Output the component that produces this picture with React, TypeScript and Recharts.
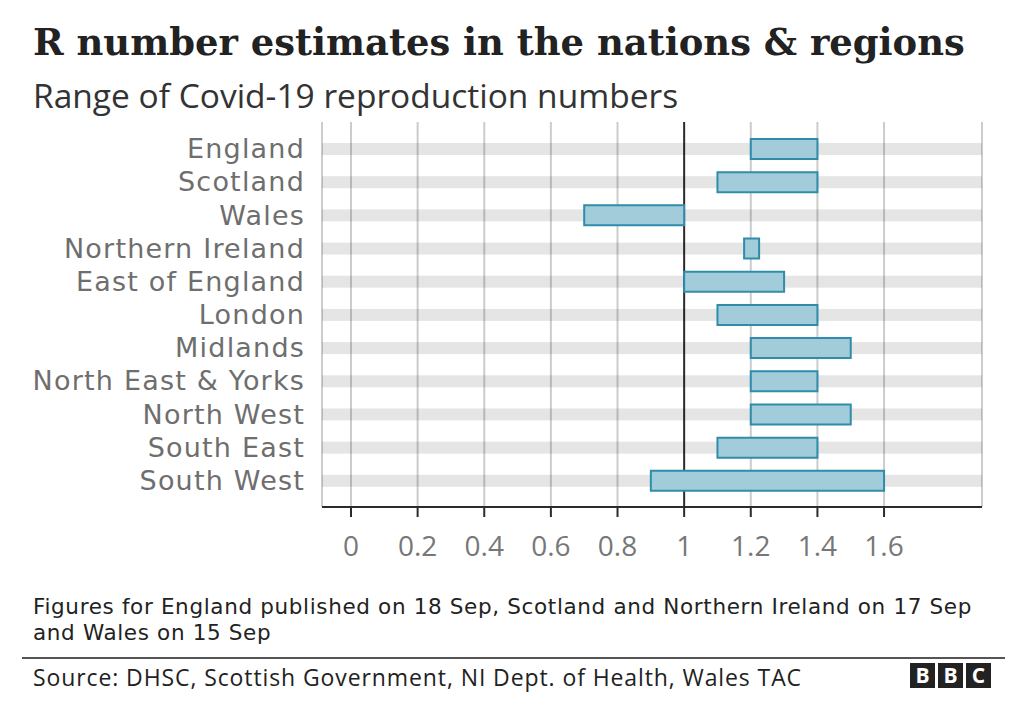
import { BarChart, Bar, XAxis, YAxis, CartesianGrid } from 'recharts';

const regions = [
  'England',
  'Scotland',
  'Wales',
  'Northern Ireland',
  'East of England',
  'London',
  'Midlands',
  'North East & Yorks',
  'North West',
  'South East',
  'South West',
];

const lowValues = [1.2, 1.1, 0.7, 1.18, 1.0, 1.1, 1.2, 1.2, 1.2, 1.1, 0.9];
const highValues = [1.4, 1.4, 1.0, 1.225, 1.3, 1.4, 1.5, 1.4, 1.5, 1.4, 1.6];

const xTicks = [0, 0.2, 0.4, 0.6, 0.8, 1, 1.2, 1.4, 1.6];

const noteLines = [
  'Figures for England published on 18 Sep, Scotland and Northern Ireland on 17 Sep',
  'and Wales on 15 Sep',
];

const data = regions.map((name, i) => ({
  name,
  range: [lowValues[i], highValues[i]],
}));

const sans = '"Open Sans", "Noto Sans", sans-serif';
const dejavu = '"DejaVu Sans", sans-serif';

// thin grey stripe behind each row, drawn from the bar's own band
function RowBand(props: any) {
  const { x, y, width, height } = props;
  return <rect x={x} y={y + height / 2 - 6} width={width} height={12} fill="#000" fillOpacity={0.1} />;
}

function GridLine(props: any) {
  const { x1, y1, x2, y2, index } = props;
  const isOne = xTicks[index] === 1;
  return (
    <line
      x1={x1}
      y1={y1}
      x2={x2}
      y2={y2}
      stroke={isOne ? '#2b2b2b' : '#cccccc'}
      strokeWidth={2}
    />
  );
}

function BbcLogo() {
  return (
    <div style={{ display: 'flex', gap: 3 }}>
      {['B', 'B', 'C'].map((c, i) => (
        <div
          key={i}
          style={{
            width: 25,
            height: 25,
            background: '#222',
            color: '#fff',
            fontFamily: sans,
            fontWeight: 700,
            fontSize: 21,
            lineHeight: '25px',
            textAlign: 'center',
          }}
        >
          {c}
        </div>
      ))}
    </div>
  );
}

export default function App() {
  return (
    <div style={{ position: 'absolute', left: 0, top: 0, width: 1020, height: 710, background: '#fff' }}>
      <div
        style={{
          position: 'absolute',
          left: 33,
          top: 20,
          fontFamily: '"DejaVu Serif", serif',
          fontWeight: 700,
          fontSize: 36.9,
          color: '#222',
          whiteSpace: 'nowrap',
        }}
      >
        R number estimates in the nations &amp; regions
      </div>
      <div
        style={{
          position: 'absolute',
          left: 33,
          top: 72,
          fontFamily: sans,
          fontSize: 33.5,
          color: '#333',
          whiteSpace: 'nowrap',
        }}
      >
        Range of Covid-19 reproduction numbers
      </div>

      <div style={{ position: 'absolute', left: 0, top: 0 }}>
        <BarChart
          width={1020}
          height={580}
          data={data}
          layout="vertical"
          margin={{ top: 122, right: 38, bottom: 13, left: 22 }}
          barSize={20}
        >
          <CartesianGrid horizontal={false} vertical={GridLine} />
          <XAxis
            type="number"
            domain={[-0.087, 1.894]}
            allowDataOverflow
            ticks={xTicks}
            height={60}
            tickSize={10}
            tickMargin={19}
            axisLine={{ stroke: '#2b2b2b', strokeWidth: 2 }}
            tickLine={{ stroke: '#2b2b2b', strokeWidth: 2 }}
            tick={{ fill: '#777', fontSize: 28, fontFamily: sans }}
          />
          <YAxis
            type="category"
            dataKey="name"
            width={300}
            axisLine={false}
            tickLine={false}
            tickSize={0}
            tickMargin={17}
            padding={{ top: 10, bottom: 10 }}
            interval={0}
            tick={{ fill: '#6e6e6e', fontSize: 27, fontFamily: dejavu, letterSpacing: 1.2 }}
          />
          <Bar
            dataKey="range"
            fill="#a3ccda"
            stroke="#2f8cab"
            strokeWidth={2}
            background={RowBand}
            isAnimationActive={false}
          />
        </BarChart>
      </div>

      {noteLines.map((line, i) => (
        <div
          key={i}
          style={{
            position: 'absolute',
            left: 33,
            top: 595 + i * 26,
            fontFamily: dejavu,
            fontSize: 21.5,
            lineHeight: '24px',
            letterSpacing: 0.65,
            color: '#222',
            whiteSpace: 'nowrap',
          }}
        >
          {line}
        </div>
      ))}
      <div style={{ position: 'absolute', left: 22, top: 657, width: 983, height: 2, background: '#555' }} />
      <div
        style={{
          position: 'absolute',
          left: 33,
          top: 661,
          fontFamily: sans,
          fontSize: 23,
          letterSpacing: 0.9,
          color: '#222',
          whiteSpace: 'nowrap',
        }}
      >
        Source: DHSC, Scottish Government, NI Dept. of Health, Wales TAC
      </div>
      <div style={{ position: 'absolute', left: 910, top: 663 }}>
        <BbcLogo />
      </div>
    </div>
  );
}
